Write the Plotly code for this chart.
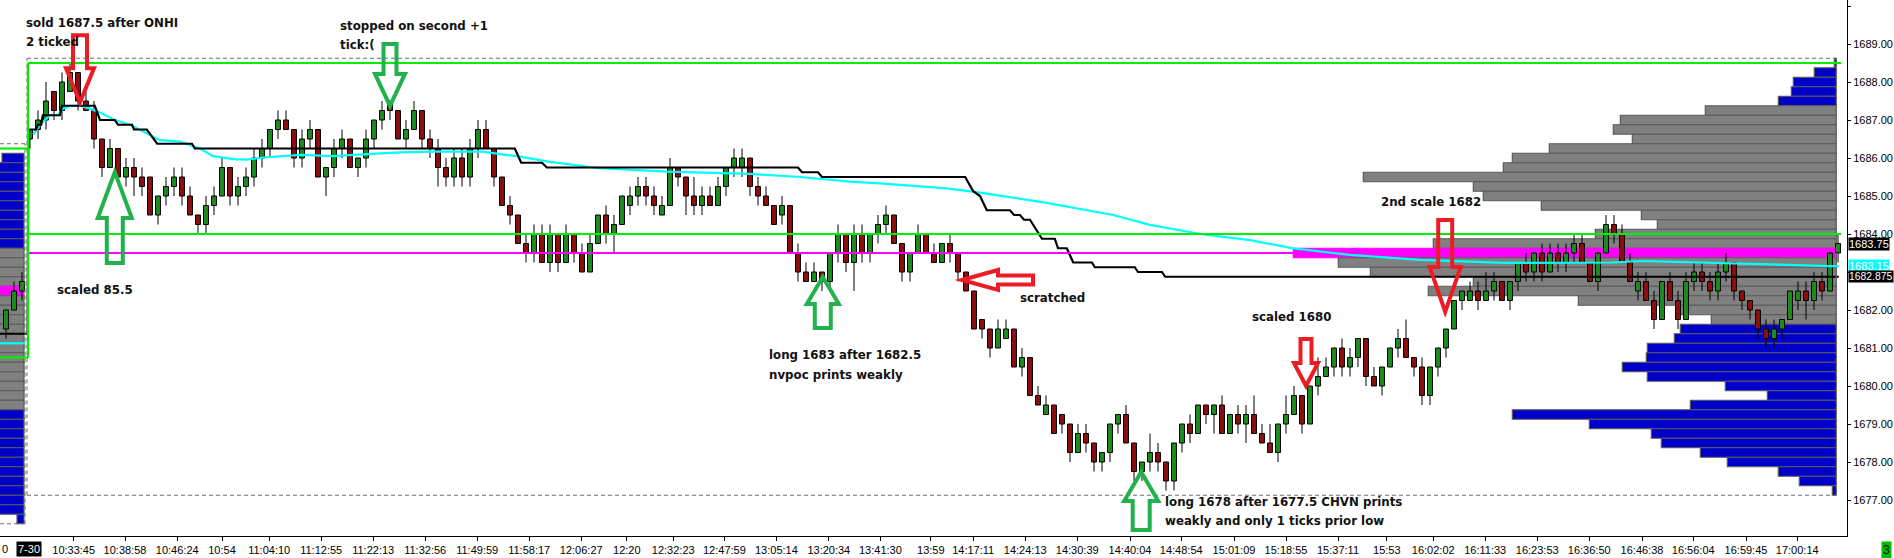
import plotly.graph_objects as go

# ---------------- candles: 3 bars of prior session + the 7-30 session ----------------
opens = [
    1681.5, 1682.0, 1682.5,
    1686.5, 1686.75, 1687.0, 1687.75, 1687.25, 1687.75, 1688.25, 1687.5, 1687.25, 1686.5,
    1685.75, 1686.25, 1685.5, 1685.75, 1685.5, 1685.5, 1684.5, 1685.0, 1685.25, 1685.5,
    1685.0, 1684.5, 1684.25, 1684.75, 1685.0, 1685.75, 1685.0, 1685.25, 1685.5, 1686.0,
    1686.25, 1686.75, 1687.0, 1686.75, 1686.0, 1686.5, 1686.75, 1685.5, 1685.75, 1686.25,
    1686.5, 1685.75, 1686.0, 1686.5, 1687.0, 1687.5, 1687.25, 1686.5, 1686.75, 1687.25,
    1686.5, 1686.25, 1685.75, 1685.5, 1686.0, 1685.5, 1686.25, 1686.75, 1686.25, 1685.5,
    1684.75, 1684.5, 1683.75, 1683.5, 1684.0, 1683.25, 1684.0, 1683.25, 1684.0, 1683.5,
    1683.0, 1683.75, 1684.5, 1684.0, 1684.25, 1684.75, 1685.0, 1685.25, 1685.0, 1684.5,
    1684.75, 1685.75, 1685.5, 1685.0, 1684.75, 1685.0, 1684.75, 1685.25, 1685.75, 1685.75,
    1686.0, 1685.25, 1685.0, 1684.75, 1684.5, 1684.75, 1683.5, 1683.0, 1682.75, 1683.0,
    1682.75, 1683.5, 1684.0, 1683.25, 1684.0, 1683.5, 1684.0, 1684.25, 1684.5, 1683.75,
    1683.0, 1683.5, 1684.0, 1683.5, 1683.25, 1683.75, 1683.5, 1683.0, 1682.5, 1681.75,
    1681.5, 1681.0, 1681.25, 1681.5, 1680.5, 1680.75, 1679.75, 1679.25, 1679.5, 1679.25,
    1679.0, 1678.25, 1678.75, 1678.5, 1678.0, 1678.25, 1679.0, 1679.25, 1678.5, 1677.75,
    1678.0, 1678.25, 1678.0, 1677.5, 1678.5, 1679.0, 1678.75, 1679.5, 1679.25, 1679.5,
    1678.75, 1679.25, 1679.0, 1679.25, 1678.75, 1678.5, 1678.25, 1679.0, 1679.25, 1679.75,
    1679.0, 1680.0, 1680.25, 1680.5, 1681.0, 1680.5, 1680.75, 1681.25, 1680.25, 1680.0,
    1680.5, 1681.0, 1681.25, 1680.75, 1680.5, 1679.75, 1680.5, 1681.0, 1681.5, 1682.25,
    1682.25, 1682.5, 1682.25, 1682.5, 1682.75, 1682.25, 1682.75, 1683.25, 1683.0, 1683.5,
    1683.0, 1683.5, 1683.25, 1683.5, 1683.75, 1683.25, 1682.75, 1683.5, 1684.25, 1684.0,
    1683.25, 1682.5, 1682.75, 1682.25, 1681.75, 1682.75, 1682.25, 1681.75, 1682.75, 1683.0,
    1682.75, 1682.5, 1683.0, 1683.25, 1682.5, 1682.25, 1682.0, 1681.5, 1681.25, 1681.5,
    1681.75, 1682.25, 1682.5, 1682.25, 1682.75, 1682.5, 1683.5,
]
highs = [
    1682.0, 1682.75, 1683.0,
    1686.75, 1687.25, 1688.0, 1687.75, 1688.25, 1688.5, 1688.25, 1687.75, 1687.5, 1686.5,
    1686.5, 1686.25, 1686.0, 1686.0, 1685.75, 1685.5, 1685.0, 1685.5, 1685.75, 1685.75,
    1685.25, 1684.5, 1685.0, 1685.25, 1686.0, 1685.75, 1685.5, 1685.75, 1686.25, 1686.5,
    1686.75, 1687.25, 1687.25, 1686.75, 1686.75, 1687.0, 1686.75, 1685.75, 1686.5, 1686.75,
    1686.5, 1686.0, 1686.75, 1687.0, 1687.5, 1687.5, 1687.25, 1687.0, 1687.5, 1687.25,
    1686.75, 1686.5, 1686.0, 1686.25, 1686.25, 1686.5, 1687.0, 1687.0, 1686.25, 1685.5,
    1685.0, 1684.5, 1684.0, 1684.25, 1684.25, 1684.25, 1684.0, 1684.25, 1684.0, 1683.75,
    1684.0, 1684.5, 1684.75, 1684.5, 1685.0, 1685.25, 1685.5, 1685.5, 1685.25, 1685.0,
    1686.0, 1685.75, 1685.5, 1685.5, 1685.25, 1685.25, 1685.5, 1685.75, 1686.25, 1686.25,
    1686.0, 1685.5, 1685.25, 1684.75, 1685.0, 1684.75, 1683.75, 1683.25, 1683.25, 1683.0,
    1683.5, 1684.25, 1684.0, 1684.25, 1684.25, 1684.0, 1684.5, 1684.75, 1684.5, 1683.75,
    1683.5, 1684.25, 1684.0, 1683.75, 1683.75, 1684.0, 1683.5, 1683.0, 1682.5, 1681.75,
    1681.5, 1681.75, 1681.75, 1681.5, 1681.0, 1680.75, 1680.0, 1679.75, 1679.5, 1679.25,
    1679.0, 1679.0, 1679.0, 1678.5, 1678.25, 1679.0, 1679.25, 1679.5, 1678.5, 1678.0,
    1678.75, 1678.5, 1678.0, 1678.5, 1679.0, 1679.25, 1679.5, 1679.5, 1679.5, 1679.75,
    1679.25, 1679.5, 1679.5, 1679.75, 1679.0, 1679.0, 1679.0, 1679.75, 1680.0, 1679.75,
    1680.0, 1680.75, 1680.75, 1681.0, 1681.25, 1681.0, 1681.25, 1681.25, 1680.5, 1680.5,
    1681.0, 1681.5, 1681.75, 1680.75, 1680.75, 1680.5, 1681.0, 1681.5, 1682.25, 1682.5,
    1682.75, 1682.75, 1683.0, 1683.0, 1682.75, 1682.75, 1683.25, 1683.5, 1683.5, 1683.75,
    1683.75, 1683.75, 1683.75, 1684.0, 1684.0, 1683.25, 1683.5, 1684.5, 1684.5, 1684.25,
    1683.5, 1683.0, 1683.0, 1682.5, 1682.75, 1683.0, 1682.5, 1683.0, 1683.25, 1683.25,
    1683.0, 1683.25, 1683.5, 1683.25, 1682.5, 1682.25, 1682.0, 1681.75, 1681.75, 1681.75,
    1682.5, 1682.75, 1682.75, 1683.0, 1683.0, 1683.5, 1684.0,
]
lows = [
    1681.25, 1682.0, 1682.25,
    1686.25, 1686.5, 1686.75, 1687.0, 1687.0, 1687.75, 1687.25, 1687.25, 1686.25, 1685.5,
    1685.75, 1685.5, 1685.25, 1685.0, 1685.0, 1684.5, 1684.25, 1684.75, 1685.0, 1684.75,
    1684.5, 1684.0, 1684.0, 1684.5, 1685.0, 1684.75, 1684.75, 1685.0, 1685.25, 1685.75,
    1686.0, 1686.5, 1686.75, 1685.75, 1685.75, 1686.25, 1685.5, 1685.0, 1685.5, 1686.0,
    1685.75, 1685.5, 1685.75, 1686.25, 1686.75, 1687.0, 1686.5, 1686.25, 1686.75, 1686.25,
    1686.0, 1685.25, 1685.25, 1685.25, 1685.25, 1685.25, 1686.0, 1686.25, 1685.25, 1684.75,
    1684.25, 1683.75, 1683.25, 1683.25, 1683.25, 1683.0, 1683.0, 1683.25, 1683.25, 1683.0,
    1683.0, 1683.75, 1683.75, 1683.5, 1684.25, 1684.5, 1684.75, 1684.75, 1684.5, 1684.5,
    1684.75, 1685.25, 1684.5, 1684.5, 1684.5, 1684.75, 1684.75, 1685.0, 1685.5, 1685.5,
    1685.0, 1684.75, 1684.75, 1684.25, 1684.25, 1683.5, 1682.75, 1682.75, 1682.75, 1682.5,
    1682.5, 1683.25, 1683.0, 1682.5, 1683.25, 1683.25, 1683.75, 1684.0, 1683.75, 1682.75,
    1682.75, 1683.5, 1683.5, 1683.25, 1683.25, 1683.25, 1682.75, 1682.5, 1681.5, 1681.25,
    1680.75, 1681.0, 1681.25, 1680.5, 1680.25, 1679.75, 1679.5, 1679.25, 1678.75, 1678.75,
    1678.0, 1678.25, 1678.25, 1677.75, 1677.75, 1678.0, 1678.75, 1678.5, 1677.5, 1677.5,
    1677.75, 1677.75, 1677.25, 1677.25, 1678.25, 1678.5, 1678.75, 1679.0, 1678.75, 1678.75,
    1678.75, 1678.75, 1678.5, 1678.75, 1678.5, 1678.25, 1678.0, 1678.75, 1679.25, 1678.75,
    1679.0, 1679.75, 1680.25, 1680.25, 1680.25, 1680.25, 1680.5, 1680.0, 1680.0, 1679.75,
    1680.5, 1680.75, 1680.75, 1680.25, 1679.5, 1679.5, 1680.25, 1680.75, 1681.5, 1682.0,
    1682.25, 1682.0, 1682.25, 1682.25, 1682.25, 1682.0, 1682.5, 1682.75, 1682.75, 1682.75,
    1683.0, 1683.0, 1683.0, 1683.25, 1683.25, 1682.75, 1682.5, 1683.5, 1683.75, 1683.25,
    1682.75, 1682.25, 1682.25, 1681.5, 1681.75, 1682.25, 1681.5, 1681.75, 1682.5, 1682.5,
    1682.25, 1682.25, 1682.75, 1682.25, 1682.0, 1681.75, 1681.25, 1681.0, 1681.0, 1681.25,
    1681.75, 1682.0, 1681.75, 1682.0, 1682.25, 1682.5, 1683.25,
]
closes = [
    1682.0, 1682.5, 1682.75,
    1686.75, 1687.0, 1687.5, 1687.25, 1688.0, 1688.25, 1687.5, 1687.25, 1686.5, 1685.75,
    1686.25, 1685.5, 1685.75, 1685.5, 1685.25, 1684.5, 1685.0, 1685.25, 1685.5, 1685.0,
    1684.5, 1684.25, 1684.75, 1685.0, 1685.75, 1685.0, 1685.25, 1685.5, 1686.0, 1686.25,
    1686.75, 1687.0, 1686.75, 1686.0, 1686.5, 1686.75, 1685.5, 1685.75, 1686.25, 1686.5,
    1685.75, 1686.0, 1686.5, 1687.0, 1687.25, 1687.25, 1686.5, 1686.75, 1687.25, 1686.5,
    1686.25, 1685.75, 1685.5, 1686.0, 1685.5, 1686.25, 1686.75, 1686.25, 1685.5, 1684.75,
    1684.5, 1683.75, 1683.5, 1684.0, 1683.25, 1684.0, 1683.25, 1684.0, 1683.5, 1683.0,
    1683.75, 1684.5, 1684.0, 1684.25, 1685.0, 1685.0, 1685.25, 1685.0, 1684.75, 1684.75,
    1685.75, 1685.5, 1685.0, 1684.75, 1685.0, 1684.75, 1685.25, 1685.75, 1686.0, 1686.0,
    1685.25, 1685.0, 1684.75, 1684.25, 1684.75, 1683.5, 1683.0, 1682.75, 1683.0, 1682.75,
    1683.5, 1684.0, 1683.25, 1684.0, 1683.5, 1684.0, 1684.25, 1684.5, 1683.75, 1683.0,
    1683.5, 1684.0, 1683.5, 1683.25, 1683.75, 1683.5, 1683.0, 1682.5, 1681.5, 1681.5,
    1681.0, 1681.5, 1681.5, 1680.5, 1680.75, 1679.75, 1679.5, 1679.5, 1678.75, 1679.0,
    1678.25, 1678.75, 1678.5, 1678.0, 1678.25, 1679.0, 1679.25, 1678.5, 1677.75, 1678.0,
    1678.25, 1678.0, 1677.5, 1678.5, 1679.0, 1678.75, 1679.5, 1679.25, 1679.5, 1678.75,
    1679.25, 1679.0, 1679.25, 1678.75, 1678.5, 1678.25, 1679.0, 1679.25, 1679.75, 1679.0,
    1680.0, 1680.25, 1680.5, 1681.0, 1680.5, 1680.75, 1681.25, 1680.25, 1680.0, 1680.5,
    1681.0, 1681.25, 1680.75, 1680.5, 1679.75, 1680.5, 1681.0, 1681.5, 1682.25, 1682.5,
    1682.5, 1682.25, 1682.5, 1682.75, 1682.25, 1682.75, 1683.25, 1683.0, 1683.5, 1683.0,
    1683.5, 1683.25, 1683.5, 1683.75, 1683.25, 1682.75, 1683.5, 1684.25, 1684.0, 1683.25,
    1682.75, 1682.75, 1682.25, 1681.75, 1682.75, 1682.25, 1681.75, 1682.75, 1683.0, 1682.75,
    1682.5, 1683.0, 1683.25, 1682.5, 1682.25, 1682.0, 1681.5, 1681.25, 1681.5, 1681.75,
    1682.5, 1682.5, 1682.25, 1682.75, 1682.5, 1683.5, 1683.75,
]
FIRST_BAR = -3  # the three prior-session bars sit left of the 7-30 open
assert len(opens) == len(highs) == len(lows) == len(closes)
bar_index = list(range(FIRST_BAR, FIRST_BAR + len(opens)))

# ---------------- developing POC (black) and VWAP (cyan) ----------------
dpoc_x = [-3.75, -0.3, -0.2, 0.75, 1.0, 1.4, 1.6, 3.75, 4.0, 8.1, 8.75, 10.6, 11.0, 12.75,
          13.0, 14.6, 15.9, 20.25, 20.6, 60.6, 61.4, 64.0, 64.6, 96.0, 96.5, 98.5, 99.0,
          116.9, 117.9, 118.75, 119.6, 122.5, 123.0, 123.75, 124.25, 125.0, 126.5, 128.1,
          128.5, 129.6, 130.4, 132.75, 133.1, 138.1, 138.5, 141.5, 141.9, 226.1]
dpoc_y = [1681.375, 1681.375, 1686.75, 1686.75, 1686.875, 1686.875, 1687.125, 1687.125,
          1687.375, 1687.375, 1687.0, 1687.0, 1686.875, 1686.875, 1686.75, 1686.75,
          1686.375, 1686.375, 1686.25, 1686.25, 1685.875, 1685.875, 1685.75, 1685.75,
          1685.625, 1685.625, 1685.5, 1685.5, 1685.125, 1685.0, 1684.625, 1684.625,
          1684.5, 1684.5, 1684.375, 1684.375, 1683.875, 1683.875, 1683.625, 1683.625,
          1683.25, 1683.25, 1683.125, 1683.125, 1683.0, 1683.0, 1682.875, 1682.875]
vwap_x = [-3.75, -0.6, None, 0.4, 1.25, 2.5, 3.5, 4.1, 5.0, 6.25, 7.5, 8.75, 10.6, 12.5, 14.6,
          16.25, 18.75, 21.25, 22.9, 25.4, 27.1, 29.6, 33.75, 37.9, 42.1, 46.25, 50.4, 56.6,
          58.75, 60.9, 65.0, 71.25, 79.6, 90.0, 96.25, 102.5, 106.25, 114.6, 118.75, 127.1,
          135.4, 140.0, 143.75, 146.25, 152.5, 157.9, 165.0, 173.75, 184.4, 197.75, 201.6,
          208.4, 216.25, 219.75, 226.1]
vwap_y = [1681.125, 1681.125, None, 1686.625, 1686.875, 1687.125, 1687.125, 1687.3, 1687.375,
          1687.375, 1687.3, 1687.2, 1687.0, 1686.875, 1686.66, 1686.47, 1686.43, 1686.25,
          1686.05, 1685.97, 1685.96, 1686.02, 1686.08, 1686.05, 1686.1, 1686.15, 1686.17,
          1686.17, 1686.1, 1686.05, 1685.9, 1685.73, 1685.64, 1685.58, 1685.5, 1685.38,
          1685.33, 1685.2, 1685.09, 1684.82, 1684.5, 1684.24, 1684.1, 1684.0, 1683.84,
          1683.62, 1683.45, 1683.32, 1683.24, 1683.25, 1683.29, 1683.25, 1683.22, 1683.19,
          1683.15]

# ---------------- volume profiles ----------------
profile_prices = [1688.5, 1688.25, 1688.0, 1687.75, 1687.5, 1687.25, 1687.0, 1686.75, 1686.5,
                  1686.25, 1686.0, 1685.75, 1685.5, 1685.25, 1685.0, 1684.75, 1684.5, 1684.25,
                  1684.0, 1683.75, 1683.5, 1683.25, 1683.0, 1682.75, 1682.5, 1682.25, 1682.0,
                  1681.75, 1681.5, 1681.25, 1681.0, 1680.75, 1680.5, 1680.25, 1680.0, 1679.75,
                  1679.5, 1679.25, 1679.0, 1678.75, 1678.5, 1678.25, 1678.0, 1677.75, 1677.5,
                  1677.25]
profile_volumes = [2, 22, 43, 45, 58, 131, 216, 223, 204, 287, 324, 333, 473, 363, 353, 295,
                   195, 179, 241, 403, 543, 498, 466, 363, 408, 258, 156, 125, 156, 162, 189,
                   190, 214, 189, 111, 69, 146, 324, 247, 185, 175, 136, 109, 58, 37, 4]
va_high, va_low, poc = 1687.25, 1681.75, 1683.5

prev_profile_prices = [1686.0, 1685.75, 1685.5, 1685.25, 1685.0, 1684.75, 1684.5, 1684.25,
                       1684.0, 1683.75, 1683.5, 1683.25, 1683.0, 1682.75, 1682.5, 1682.25,
                       1682.0, 1681.75, 1681.5, 1681.25, 1681.0, 1680.75, 1680.5, 1680.25,
                       1680.0, 1679.75, 1679.5, 1679.25, 1679.0, 1678.75, 1678.5, 1678.25,
                       1678.0, 1677.75, 1677.5, 1677.25, 1677.0, 1676.75, 1676.5]
prev_profile_volumes = [22, 34, 36, 38, 38, 40, 40, 40, 42, 44, 46, 48, 48, 50, 50, 50, 50, 50,
                        50, 48, 48, 46, 46, 44, 44, 42, 42, 40, 40, 38, 36, 36, 34, 34, 32, 32,
                        30, 30, 7]
prev_va_high, prev_va_low, prev_poc = 1683.5, 1679.5, 1682.5

# levels
session_high_box, session_low_box = 1688.5, 1684.0          # green box of the session
prev_box_high, prev_box_low = 1686.25, 1680.75               # green box of prior session
session_range_top, session_range_bottom = 1688.625, 1677.125  # dashed range
prev_range_top, prev_range_bottom = 1686.375, 1676.375
last_price, vwap_last, dpoc_last = 1683.75, 1683.15, 1682.875

price_ticks = [1677, 1678, 1679, 1680, 1681, 1682, 1683, 1684, 1685, 1686, 1687, 1688, 1689,
               1690]
price_tick_text = ["1677.00", "1678.00", "1679.00", "1680.00", "1681.00", "1682.00", "",
                   "1684.00", "1685.00", "1686.00", "1687.00", "1688.00", "1689.00", "1690.00"]

tick_labels = ["10:33:45", "10:38:58", "10:46:24", "10:54", "11:04:10", "11:12:55", "11:22:13",
               "11:32:56", "11:49:59", "11:58:17", "12:06:27", "12:20", "12:32:23", "12:47:59",
               "13:05:14", "13:20:34", "13:41:30", "13:59", "14:17:11", "14:24:13", "14:30:39",
               "14:40:04", "14:48:54", "15:01:09", "15:18:55", "15:37:11", "15:53", "16:02:02",
               "16:11:33", "16:23:53", "16:36:50", "16:46:38", "16:56:04", "16:59:45", "17:00:14"]
tick_bars = [5.46, 11.875, 18.4, 24.0, 29.9, 36.4, 42.9, 49.4, 55.9, 62.4, 68.9, 74.6, 80.4,
             86.8, 93.3, 99.85, 106.3, 112.6, 117.9, 124.4, 130.9, 137.5, 143.9, 150.5, 157.0,
             163.5, 169.6, 175.4, 181.9, 188.4, 194.9, 201.5, 207.9, 214.5, 220.9]

# ---------------- styling constants ----------------
UP, DOWN = "#1E8B1E", "#8B0F0F"
GRAY, BLUE, MAGENTA, EDGE = "#808080", "#0000C8", "#FF00FF", "#5A5A5A"
LIME, CYAN = "#00F000", "#00FFFF"
RED_ARROW, GREEN_ARROW = "#ED1C24", "#22B14C"
AXIS_FONT = "Liberation Sans, Arial, sans-serif"
AXIS_SIZE = 11
NOTE_FONT = "DejaVu Sans, Verdana, sans-serif"
BAR_PX = 8.0             # pixels per bar index
X_LEFT, X_RIGHT = -3.75, 227.125
PROFILE_EDGE = 225.79    # right edge of session profile (bar units)
PREV_PROFILE_EDGE = -0.75
SESSION_START = -0.25

fig = go.Figure()


def prof_colors(prices, hi, lo, pc):
    fills, edges = [], []
    for p in prices:
        if p == pc:
            fills.append(MAGENTA); edges.append(MAGENTA)
        elif lo <= p <= hi:
            fills.append(GRAY); edges.append(EDGE)
        else:
            fills.append(BLUE); edges.append(EDGE)
    return fills, edges


f1, e1 = prof_colors(profile_prices, va_high, va_low, poc)
fig.add_trace(go.Bar(orientation="h", y=profile_prices,
                     x=[-v / BAR_PX for v in profile_volumes], base=PROFILE_EDGE,
                     width=0.25, marker=dict(color=f1, line=dict(color=e1, width=1.2)),
                     hoverinfo="skip"))
f2, e2 = prof_colors(prev_profile_prices, prev_va_high, prev_va_low, prev_poc)
fig.add_trace(go.Bar(orientation="h", y=prev_profile_prices,
                     x=[-v / BAR_PX for v in prev_profile_volumes], base=PREV_PROFILE_EDGE,
                     width=0.25, marker=dict(color=f2, line=dict(color=e2, width=1.2)),
                     hoverinfo="skip"))

# candle bodies
body_base = [min(o, c) for o, c in zip(opens, closes)]
body_len = [abs(c - o) for o, c in zip(opens, closes)]
body_col = [UP if c > o else DOWN for o, c in zip(opens, closes)]
fig.add_trace(go.Bar(x=bar_index, y=body_len, base=body_base, width=0.62,
                     marker=dict(color=body_col, line=dict(color="black", width=1)),
                     hoverinfo="skip"))
# wicks (outside the bodies only)
wx, wy = [], []
for i, o, h, l, c in zip(bar_index, opens, highs, lows, closes):
    top, bot = max(o, c), min(o, c)
    if h > top:
        wx += [i, i, None]; wy += [top, h, None]
    if l < bot:
        wx += [i, i, None]; wy += [bot, l, None]
fig.add_trace(go.Scatter(x=wx, y=wy, mode="lines", line=dict(color="black", width=1),
                         hoverinfo="skip"))

fig.add_trace(go.Scatter(x=vwap_x, y=vwap_y, mode="lines", line=dict(color=CYAN, width=2.2),
                         hoverinfo="skip"))
fig.add_trace(go.Scatter(x=dpoc_x, y=dpoc_y, mode="lines", line=dict(color="black", width=2.2),
                         hoverinfo="skip"))

shapes = []


def seg(x0, x1, y0, y1, color, width, dash=None):
    shapes.append(dict(type="line", xref="x", yref="y", x0=x0, x1=x1, y0=y0, y1=y1,
                       line=dict(color=color, width=width, dash=dash), layer="above"))


DASH = "4px,3px"
# dashed ranges
seg(-0.375, PROFILE_EDGE, session_range_top, session_range_top, "#6E6E6E", 1, DASH)
seg(-0.375, PROFILE_EDGE, session_range_bottom, session_range_bottom, "#6E6E6E", 1, DASH)
seg(-0.375, -0.375, session_range_bottom, session_range_top, "#6E6E6E", 1, DASH)
seg(PROFILE_EDGE, PROFILE_EDGE, session_range_bottom, session_range_top, "#6E6E6E", 1, DASH)
seg(X_LEFT, -0.625, prev_range_top, prev_range_top, "#6E6E6E", 1, DASH)
seg(X_LEFT, -0.625, prev_range_bottom, prev_range_bottom, "#6E6E6E", 1, DASH)
seg(-0.625, -0.625, prev_range_bottom, prev_range_top, "#6E6E6E", 1, DASH)
# magenta POC line
seg(SESSION_START + 0.125, 157.9, poc, poc, MAGENTA, 2)
# green boxes
seg(SESSION_START, 226.4, session_high_box, session_high_box, LIME, 2.2)
seg(SESSION_START, 226.4, session_low_box, session_low_box, LIME, 2.2)
seg(X_LEFT, SESSION_START, prev_box_high, prev_box_high, LIME, 2.2)
seg(X_LEFT, SESSION_START, prev_box_low, prev_box_low, LIME, 2.2)
seg(SESSION_START, SESSION_START, prev_box_low, session_high_box, LIME, 2.2)


def arrow(tip_x, tip_y, direction, L, hl, hw, sw, color):
    pts = [(0, 0), (hw, hl), (sw, hl), (sw, L), (-sw, L), (-sw, hl), (-hw, hl)]
    if direction == "up":
        pts = [(x, -y) for x, y in pts]
    elif direction == "left":
        pts = [(y, x) for x, y in pts]
    path = "M " + " L ".join(f"{x},{y}" for x, y in pts) + " Z"
    shapes.append(dict(type="path", xref="x", yref="y", xsizemode="pixel", ysizemode="pixel",
                       xanchor=tip_x, yanchor=tip_y, path=path,
                       line=dict(color=color, width=4), fillcolor="rgba(0,0,0,0)",
                       layer="above"))


arrow(6.25, 1687.47, "down", 67, 34, 14, 7, RED_ARROW)
arrow(45.0, 1687.37, "down", 62, 32, 15, 6.5, GREEN_ARROW)
arrow(10.6, 1685.63, "up", 91, 46, 17, 8, GREEN_ARROW)
arrow(99.1, 1682.87, "up", 51, 27, 16, 8, GREEN_ARROW)
arrow(116.5, 1682.79, "left", 71, 36, 10, 4.5, RED_ARROW)
arrow(159.5, 1680.0, "down", 47, 23, 12, 5.5, RED_ARROW)
arrow(176.9, 1681.95, "down", 92, 45, 15.5, 7, RED_ARROW)
arrow(138.9, 1677.74, "up", 58, 29, 17, 8.5, GREEN_ARROW)

notes = [
    ("sold 1687.5 after ONHI", -0.75, 1689.55),
    ("2 ticked", -0.75, 1689.05),
    ("stopped on second +1", 38.5, 1689.47),
    ("tick:(", 38.5, 1688.97),
    ("scaled 85.5", 3.125, 1682.53),
    ("long 1683 after 1682.5", 92.1, 1680.82),
    ("nvpoc prints weakly", 92.1, 1680.29),
    ("scratched", 123.5, 1682.32),
    ("scaled 1680", 152.5, 1681.82),
    ("2nd scale 1682", 168.6, 1684.84),
    ("long 1678 after 1677.5 CHVN prints", 141.6, 1676.95),
    ("weakly and only 1 ticks prior low", 141.6, 1676.45),
]
annotations = []
for text, x, y in notes:
    annotations.append(dict(x=x, y=y, xref="x", yref="y", text=f"<b>{text}</b>",
                            showarrow=False, xanchor="left", yanchor="middle",
                            font=dict(family=NOTE_FONT, size=11.8, color="#111111")))

# value boxes on the price axis
for val, txt, bg, size in [(last_price, "1683.75", "black", AXIS_SIZE),
                           (vwap_last, "1683.15", CYAN, AXIS_SIZE),
                           (dpoc_last, "1682.875", "black", 10.4)]:
    annotations.append(dict(x=1, xref="paper", xanchor="left", xshift=1, y=val, yref="y",
                            yanchor="middle", text=txt, showarrow=False, bgcolor=bg,
                            borderpad=0, font=dict(family=AXIS_FONT, size=size,
                                                   color="white")))
# date marker on the time axis
annotations.append(dict(x=SESSION_START + 0.125, xref="x", y=0, yref="paper", yanchor="top",
                        yshift=-5, text="7-30", showarrow=False, bgcolor="black", borderpad=1,
                        font=dict(family=AXIS_FONT, size=AXIS_SIZE, color="white")))
annotations.append(dict(x=0, xref="paper", xanchor="left", y=0, yref="paper", yanchor="top",
                        yshift=-5, text="0", showarrow=False,
                        font=dict(family=AXIS_FONT, size=AXIS_SIZE, color="black")))
annotations.append(dict(x=1.0185, xref="paper", xanchor="left", y=0, yref="paper",
                        yanchor="top", yshift=-5, text="3", showarrow=False, bgcolor="#00C000",
                        borderpad=1, font=dict(family=AXIS_FONT, size=AXIS_SIZE + 1,
                                               color="black")))

fig.update_layout(
    width=1894, height=558, margin=dict(l=0, r=47, t=0, b=22, pad=0),
    plot_bgcolor="white", paper_bgcolor="white", showlegend=False,
    barmode="overlay", shapes=shapes, annotations=annotations,
    xaxis=dict(range=[X_LEFT, X_RIGHT], showgrid=False, zeroline=False, showline=True,
               linecolor="black", linewidth=1, ticks="outside", ticklen=4, tickcolor="black",
               tickmode="array", tickvals=tick_bars, ticktext=tick_labels, tickangle=0,
               tickfont=dict(family=AXIS_FONT, size=AXIS_SIZE, color="black"),
               fixedrange=True),
    yaxis=dict(side="right", range=[1676.053, 1690.158], showgrid=False, zeroline=False,
               showline=True, linecolor="black", linewidth=1, ticks="outside", ticklen=3,
               tickcolor="black", tickmode="array", tickvals=price_ticks,
               ticktext=price_tick_text,
               tickfont=dict(family=AXIS_FONT, size=AXIS_SIZE, color="black"),
               fixedrange=True),
)

# the page body's default 8px margin would shift and clip the 1894x558 figure
fig.write_html("out.html", config={"displayModeBar": False},
               post_script="document.body.style.margin='0px';"
                           "document.body.style.overflow='hidden';")
